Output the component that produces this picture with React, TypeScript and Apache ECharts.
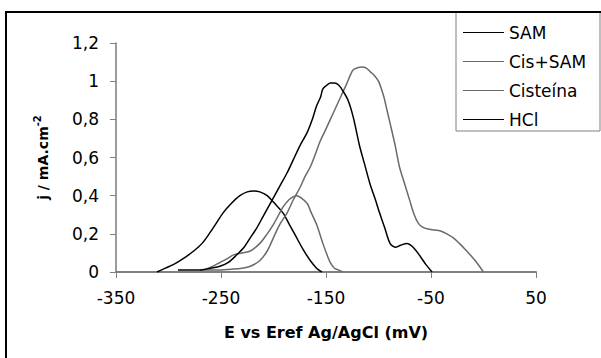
import React, { useEffect, useRef } from "react";
import * as echarts from "echarts";

const seriesNames = ["SAM", "Cis+SAM", "Cisteína", "HCl"];

const samE = [-311, -303, -295, -286, -276, -268, -260, -254, -248, -240, -232, -225, -219, -213, -206, -199, -191, -185, -178, -172, -165, -159, -154];
const samJ = [0, 0.02, 0.04, 0.07, 0.11, 0.15, 0.21, 0.26, 0.31, 0.36, 0.4, 0.42, 0.425, 0.42, 0.4, 0.36, 0.31, 0.25, 0.18, 0.12, 0.06, 0.02, 0];

const cisSamE = [-270, -262, -251, -244, -238, -230, -222, -213, -206, -200, -195, -191, -185, -181, -178, -174, -168, -164, -159, -153, -149, -146, -142, -138, -134];
const cisSamJ = [0.01, 0.02, 0.05, 0.07, 0.09, 0.1, 0.11, 0.15, 0.2, 0.25, 0.3, 0.34, 0.38, 0.395, 0.4, 0.39, 0.36, 0.31, 0.25, 0.15, 0.09, 0.05, 0.02, 0.01, 0];

const cisE = [-270, -255, -240, -230, -222, -213, -206, -200, -194, -187, -181, -175, -170, -165, -160, -156, -150, -145, -140, -135, -130, -127, -124, -120, -116, -112, -108, -104, -100, -95, -92, -89, -84, -80, -75, -70, -66, -62, -58, -53, -47, -41, -35, -29, -23, -16, -8, 0];
const cisJ = [0.01, 0.01, 0.015, 0.02, 0.03, 0.06, 0.11, 0.18, 0.25, 0.31, 0.38, 0.44, 0.5, 0.55, 0.62, 0.68, 0.75, 0.81, 0.87, 0.93, 0.99, 1.03, 1.06, 1.07, 1.074, 1.07, 1.05, 1.03, 1.0, 0.92, 0.85, 0.78, 0.66, 0.55, 0.46, 0.37, 0.3, 0.255, 0.235, 0.225, 0.22, 0.215, 0.2, 0.18, 0.15, 0.11, 0.06, 0];

const hclE = [-291, -280, -270, -260, -251, -243, -235, -228, -222, -216, -210, -205, -200, -194, -187, -181, -175, -168, -163, -159, -155, -153, -149, -146, -142, -138, -134, -129, -124, -118, -113, -108, -103, -99, -94, -89, -84, -79, -73, -67, -60, -55, -49];
const hclJ = [0.01, 0.01, 0.01, 0.02, 0.03, 0.05, 0.09, 0.13, 0.18, 0.23, 0.29, 0.34, 0.39, 0.45, 0.52, 0.59, 0.66, 0.73, 0.8, 0.87, 0.92, 0.96, 0.98, 0.99, 0.99, 0.98, 0.95, 0.9, 0.81, 0.66, 0.56, 0.46, 0.38, 0.31, 0.23, 0.15, 0.13, 0.14, 0.15, 0.13, 0.08, 0.04, 0];

const xTicks = { min: -350, max: 50, interval: 100 };
const yTicks = { min: 0, max: 1.2, interval: 0.2 };

const colors = ["#000000", "#6a6a6a", "#6a6a6a", "#000000"];

const zip = (xs: number[], ys: number[]) => xs.map((x, i) => [x, ys[i]]);

const FONT = "'DejaVu Sans', 'Liberation Sans', Arial, sans-serif";

export default function App() {
  const ref = useRef<HTMLDivElement>(null);
  useEffect(() => {
    if (!ref.current) return;
    const chart = echarts.init(ref.current, undefined, { renderer: "svg" });
    const dataSets = [zip(samE, samJ), zip(cisSamE, cisSamJ), zip(cisE, cisJ), zip(hclE, hclJ)];
    chart.setOption({
      animation: false,
      backgroundColor: "#ffffff",
      textStyle: { fontFamily: FONT },
      grid: { left: 116, right: 65, top: 43, bottom: 86, containLabel: false },
      xAxis: {
        type: "value",
        min: xTicks.min,
        max: xTicks.max,
        interval: xTicks.interval,
        name: "E vs Eref Ag/AgCl (mV)",
        nameLocation: "middle",
        nameGap: 52,
        nameTextStyle: { fontFamily: FONT, fontWeight: "bold", fontSize: 16, color: "#000" },
        axisLine: { show: true, onZero: false, lineStyle: { color: "#808080", width: 2 } },
        axisTick: { show: true, length: 6, inside: false, lineStyle: { color: "#808080", width: 1 } },
        axisLabel: { fontFamily: FONT, fontSize: 17, color: "#000", margin: 17 },
        splitLine: { show: false },
      },
      yAxis: {
        type: "value",
        position: "left",
        min: yTicks.min,
        max: yTicks.max,
        interval: yTicks.interval,
        name: "{a|j / mA.cm}{b|-2}",
        nameLocation: "middle",
        nameGap: 62,
        nameTextStyle: {
          fontFamily: FONT,
          color: "#000",
          rich: {
            a: { fontFamily: FONT, fontWeight: "bold", fontSize: 14, color: "#000", lineHeight: 22 },
            b: { fontFamily: FONT, fontWeight: "bold", fontSize: 10, color: "#000", verticalAlign: "top", lineHeight: 22, padding: [0, 0, 8, 0] },
          },
        },
        axisLine: { show: true, onZero: false, lineStyle: { color: "#7a7a7a", width: 1.5 } },
        axisTick: { show: true, length: 6, inside: false, lineStyle: { color: "#808080", width: 1 } },
        axisLabel: {
          fontFamily: FONT,
          fontSize: 17,
          color: "#000",
          margin: 17,
          formatter: (v: number) => String(Math.round(v * 10) / 10).replace(".", ","),
        },
        splitLine: { show: false },
      },
      legend: {
        orient: "vertical",
        left: 458,
        top: 19,
        itemWidth: 41,
        itemHeight: 18,
        itemGap: 12,
        icon: "path://M0,9 L41,9 L41,10 L0,10 Z",
        textStyle: { fontFamily: FONT, fontSize: 17, color: "#000" },
        data: seriesNames,
      },
      graphic: [
        {
          type: "rect",
          shape: { x: 456, y: 12, width: 144, height: 119 },
          style: { fill: "none", stroke: "#808080", lineWidth: 1 },
          silent: true,
        },
        {
          type: "rect",
          shape: { x: 6, y: 12, width: 700, height: 500 },
          style: { fill: "none", stroke: "#000", lineWidth: 2 },
          silent: true,
        },
      ],
      series: seriesNames.map((name, i) => ({
        name,
        type: "line",
        data: dataSets[i],
        showSymbol: false,
        symbol: "none",
        smooth: 0.3,
        color: colors[i],
        lineStyle: { color: colors[i], width: 1.5 },
      })),
    });
    return () => chart.dispose();
  }, []);
  return <div ref={ref} style={{ position: "fixed", left: 0, top: 0, width: 601, height: 358 }} />;
}
